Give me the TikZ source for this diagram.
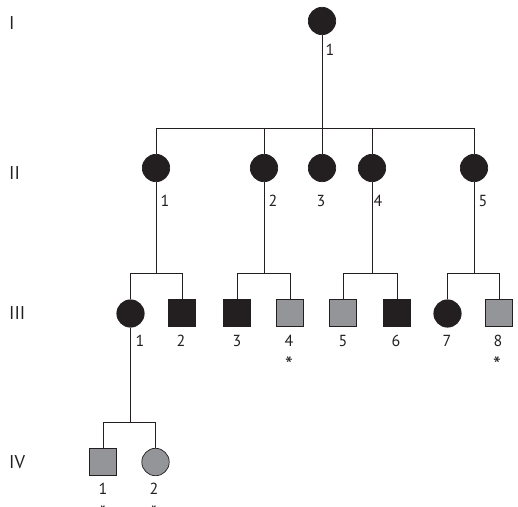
\documentclass[tikz,border=0pt]{standalone}
\usepackage{fontspec}
\setmainfont{PT Sans}
\definecolor{aff}{RGB}{35,31,32}
\definecolor{car}{RGB}{147,149,152}
\tikzset{
 fem/.style={circle, draw=aff, fill=aff, minimum size=27.4pt, inner sep=0pt, line width=0.7pt},
 mal/.style={rectangle, draw=aff, fill=aff, minimum size=27pt, inner sep=0pt, line width=0.7pt},
 carrier/.style={fill=car},
 num/.style={font=\fontsize{16}{18}\selectfont, inner sep=0pt, anchor=base, text=aff},
 astx/.style={font=\fontsize{22}{24}\selectfont, inner sep=0pt, anchor=base, text=aff},
 gen/.style={font=\fontsize{18.5}{20}\selectfont, inner sep=0pt, anchor=base west, text=aff},
 link/.style={draw=aff, line width=0.6pt},
}
\begin{document}
\begin{tikzpicture}[x=1pt,y=-1pt]
\useasboundingbox (0,0) rectangle (518,506);
\clip (0,0) rectangle (518,506);
% generation labels
\node[gen] (gI) at (9,29) {I};
\node[gen] (gII) at (9,179) {II};
\node[gen] (gIII) at (9,319) {III};
\node[gen] (gIV) at (9,468) {IV};
% generation I
\node[fem] (p1) at (322,21) {};
% generation II
\node[fem] (a1) at (156,168) {};
\node[fem] (a2) at (264,168) {};
\node[fem] (a3) at (322,168) {};
\node[fem] (a4) at (372,168) {};
\node[fem] (a5) at (474,168) {};
% generation III
\node[fem] (b1) at (130.5,313.5) {};
\node[mal] (b2) at (182,313) {};
\node[mal] (b3) at (237,313) {};
\node[mal,carrier] (b4) at (290,313) {};
\node[mal,carrier] (b5) at (343,313) {};
\node[mal] (b6) at (397,313) {};
\node[fem] (b7) at (447.5,313.5) {};
\node[mal,carrier] (b8) at (499,313) {};
% generation IV
\node[mal,carrier] (c1) at (103,461.5) {};
\node[fem,carrier] (c2) at (155.5,462) {};
% junction coordinates
\coordinate (jI) at (322,128);
\coordinate (j1) at (156,273);
\coordinate (j2) at (264,273);
\coordinate (j4) at (372,273);
\coordinate (j5) at (474,273);
\coordinate (jb1) at (130.5,422);
% connectors
\draw[link] (p1.south) -- (jI);
\draw[link] (a1.north) -- (a1.north |- jI) -- (a5.north |- jI) -- (a5.north);
\draw[link] (a2.north) -- (a2.north |- jI);
\draw[link] (a3.north) -- (jI);
\draw[link] (a4.north) -- (a4.north |- jI);
\draw[link] (a1.south) -- (j1);
\draw[link] (b1.north) -- (b1.north |- j1) -- (b2.north |- j1) -- (b2.north);
\draw[link] (a2.south) -- (j2);
\draw[link] (b3.north) -- (b3.north |- j2) -- (b4.north |- j2) -- (b4.north);
\draw[link] (a4.south) -- (j4);
\draw[link] (b5.north) -- (b5.north |- j4) -- (b6.north |- j4) -- (b6.north);
\draw[link] (a5.south) -- (j5);
\draw[link] (b7.north) -- (b7.north |- j5) -- (b8.north |- j5) -- (b8.north);
\draw[link] (b1.south) -- (jb1);
\draw[link] (c1.north) -- (c1.north |- jb1) -- (c2.north |- jb1) -- (c2.north);
% individual numbers
\node[num] (lp1) at (330,55) {1};
\node[num] (la1) at (165,206) {1};
\node[num] (la2) at (273,206) {2};
\node[num] (la3) at (321,206) {3};
\node[num] (la4) at (378,206) {4};
\node[num] (la5) at (483,206) {5};
\node[num] (lb1) at (140,346) {1};
\node[num] (lb2) at (181,346) {2};
\node[num] (lb3) at (237,346) {3};
\node[num] (lb4) at (289,346) {4};
\node[num] (lb5) at (343,346) {5};
\node[num] (lb6) at (396,346) {6};
\node[num] (lb7) at (447,346) {7};
\node[num] (lb8) at (498,346) {8};
\node[num] (lc1) at (103,494) {1};
\node[num] (lc2) at (154,494) {2};
% asterisks
\node[astx] (sb4) at (289,372) {*};
\node[astx] (sb8) at (497,372) {*};
\node[astx] (sc1) at (103,521) {*};
\node[astx] (sc2) at (154,521) {*};
\end{tikzpicture}
\end{document}
